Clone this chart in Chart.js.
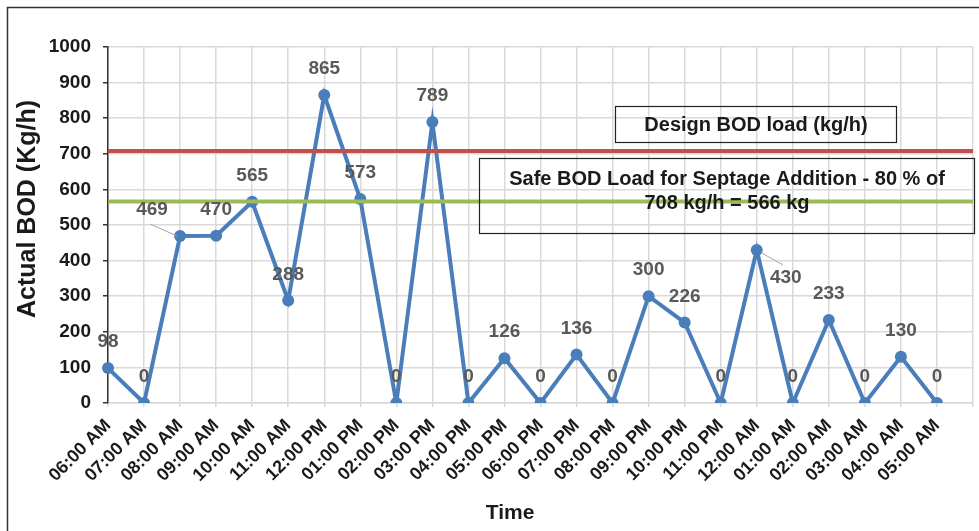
<!DOCTYPE html>
<html>
<head>
<meta charset="utf-8">
<script src="https://cdn.jsdelivr.net/npm/chart.js@4"></script>
<style>
html,body{margin:0;padding:0;background:#fff;}
#wrap{width:979px;height:531px;position:relative;}
</style>
</head>
<body>
<div id="wrap"><canvas id="c"></canvas></div>
<script>
const categories = ["06:00 AM","07:00 AM","08:00 AM","09:00 AM","10:00 AM","11:00 AM","12:00 PM","01:00 PM","02:00 PM","03:00 PM","04:00 PM","05:00 PM","06:00 PM","07:00 PM","08:00 PM","09:00 PM","10:00 PM","11:00 PM","12:00 AM","01:00 AM","02:00 AM","03:00 AM","04:00 AM","05:00 AM",""];
const actualBOD = [98,0,469,470,565,288,865,573,0,789,0,126,0,136,0,300,226,0,430,0,233,0,130,0];
const designLoad = 708;
const safeLoad = 566;
const yTicks = [0,100,200,300,400,500,600,700,800,900,1000];
const yTitle = "Actual BOD (Kg/h)";
const xTitle = "Time";
const boxText1 = ["Design BOD load (kg/h)"];
const boxText2 = ["Safe BOD Load for Septage Addition - 80 % of","708 kg/h = 566 kg"];

const FONT = "'Liberation Sans', Arial, sans-serif";
const designSeries = categories.map(() => designLoad);
const safeSeries = categories.map(() => safeLoad);

const labelPlugin = {
  id: 'labels',
  afterDatasetsDraw(chart) {
    const ctx = chart.ctx;
    const meta = chart.getDatasetMeta(0);
    const special = {2: {dx: -28, dy: -26}, 18: {dx: 29, dy: 28}};
    ctx.save();
    ctx.font = "bold 19px " + FONT;
    ctx.textAlign = 'center';
    ctx.textBaseline = 'middle';
    ctx.fillStyle = '#595959';
    meta.data.forEach((pt, i) => {
      const v = actualBOD[i];
      let x = pt.x, y = pt.y - 26;
      const s = special[i];
      if (s) {
        x = pt.x + s.dx; y = pt.y + s.dy;
        ctx.strokeStyle = '#a6a6a6';
        ctx.lineWidth = 1;
        ctx.beginPath();
        if (i === 2) { ctx.moveTo(x - 2, y + 14); ctx.lineTo(pt.x - 3, pt.y); }
        else { ctx.moveTo(pt.x + 5, pt.y + 3); ctx.lineTo(x - 3, y - 13); }
        ctx.stroke();
      }
      ctx.fillText(String(v), x, y);
    });
    ctx.restore();
  },
  afterDraw(chart) {
    const ctx = chart.ctx;
    ctx.save();
    // outer frame
    ctx.strokeStyle = '#333';
    ctx.lineWidth = 1.5;
    ctx.beginPath();
    ctx.moveTo(7.5, 540); ctx.lineTo(7.5, 7.5); ctx.lineTo(990, 7.5);
    ctx.stroke();
    // axis titles
    ctx.fillStyle = '#1a1a1a';
    ctx.textAlign = 'center';
    ctx.textBaseline = 'middle';
    ctx.font = "bold 21px " + FONT;
    ctx.fillText(xTitle, 510, 513);
    ctx.save();
    ctx.translate(28, 209);
    ctx.rotate(-Math.PI / 2);
    ctx.font = "bold 25px " + FONT;
    ctx.fillText(yTitle, 0, 0);
    ctx.restore();
    // text boxes
    ctx.strokeStyle = '#222';
    ctx.lineWidth = 1.2;
    ctx.strokeRect(615.5, 106.5, 281, 36);
    ctx.strokeRect(479.5, 158.5, 495, 75);
    ctx.font = "bold 20px " + FONT;
    ctx.fillText(boxText1[0], 756, 125);
    ctx.fillText(boxText2[0], 727, 179);
    ctx.fillText(boxText2[1], 727, 203);
    ctx.restore();
  }
};

new Chart(document.getElementById('c'), {
  type: 'line',
  data: {
    labels: categories,
    datasets: [
      {
        data: actualBOD,
        borderColor: '#4a7ebb',
        backgroundColor: '#4a7ebb',
        borderWidth: 4,
        pointRadius: 6,
        pointBackgroundColor: '#4a7ebb',
        pointBorderWidth: 0,
        tension: 0,
        order: 2
      },
      {
        data: designSeries,
        borderColor: '#c0504d',
        borderWidth: 4,
        pointRadius: 0,
        order: 1
      },
      {
        data: safeSeries,
        borderColor: '#9bbb59',
        borderWidth: 4,
        pointRadius: 0,
        order: 1
      }
    ]
  },
  options: {
    responsive: true,
    maintainAspectRatio: false,
    animation: false,
    devicePixelRatio: 1,
    layout: {padding: {top: 47, right: 6, left: 0, bottom: 0}},
    plugins: {legend: {display: false}, tooltip: {enabled: false}},
    scales: {
      x: {
        type: 'category',
        offset: false,
        afterFit(s) { s.height = 128; s.paddingRight = 0; },
        grid: {color: '#d9d9d9', lineWidth: 1.5, tickLength: 4, tickColor: '#d9d9d9'},
        border: {color: '#d9d9d9', width: 1.5},
        ticks: {
          autoSkip: false, maxRotation: 45, minRotation: 45, padding: 8,
          color: '#1a1a1a', font: {family: FONT, size: 18, weight: 'bold'}
        }
      },
      y: {
        min: 0, max: 1000,
        afterFit(s) { s.width = 108; },
        afterBuildTicks(s) { s.ticks = yTicks.map(v => ({value: v})); },
        grid: {color: '#d9d9d9', lineWidth: 1.5, tickLength: 5, tickColor: '#333'},
        border: {color: '#333', width: 1.5},
        ticks: {padding: 12, color: '#1a1a1a', font: {family: FONT, size: 19, weight: 'bold'}, callback: (v) => String(v)}
      }
    }
  },
  plugins: [labelPlugin]
});
</script>
</body>
</html>
